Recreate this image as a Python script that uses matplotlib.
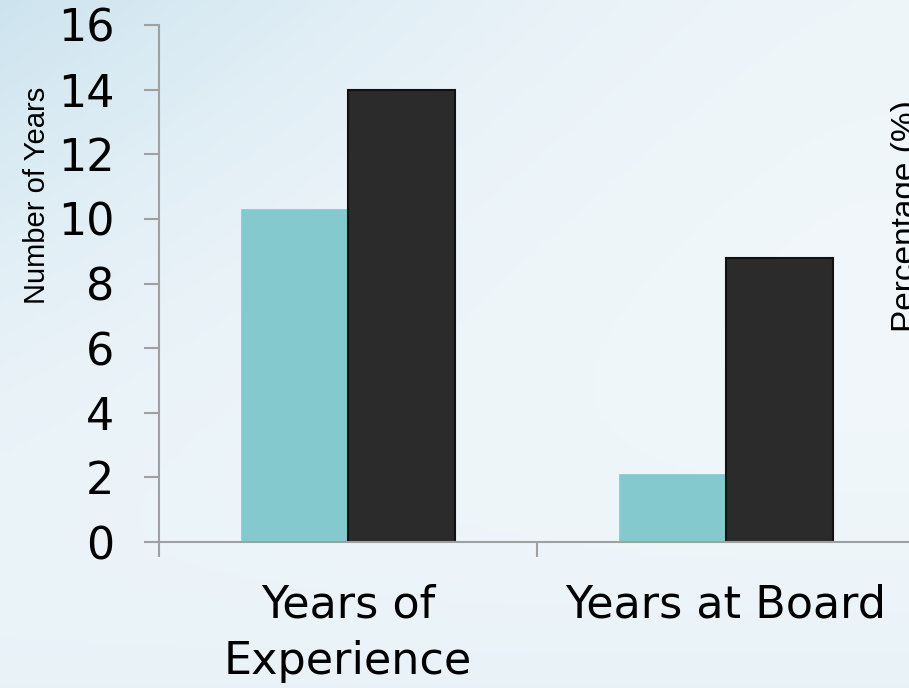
import numpy as np
import matplotlib
matplotlib.use('Agg')
import matplotlib.pyplot as plt
from matplotlib.colors import LinearSegmentedColormap

categories = ['Years of\nExperience', 'Years at Board']
series_a = [10.3, 2.1]    # teal bars
series_b = [14.0, 8.8]    # dark bars
y_ticks = [0, 2, 4, 6, 8, 10, 12, 14, 16]

plt.rcParams['font.family'] = ['DejaVu Sans']

fig = plt.figure(figsize=(9.09, 6.88), dpi=100)

# pale blue gradient background (row 0 = top of picture)
bg = fig.add_axes([0, 0, 1, 1], zorder=0)
bg.axis('off')
cmap = LinearSegmentedColormap.from_list('bg', ['#f8fbfd', '#e6f1f7', '#cde4ef'])
yy, xx = np.mgrid[0:1:200j, 0:1:200j]
d = 1.0 * (1 - xx) ** 1.4 * (1 - yy) ** 1.2 + 0.3 * (1 - yy) * xx + 0.45 * yy ** 3
bg.imshow(np.clip(d, 0, 1), cmap=cmap, vmin=0, vmax=1, aspect='auto',
          extent=[0, 1, 0, 1], origin='upper')
bg.set_xlim(0, 1)
bg.set_ylim(0, 1)

ax = fig.add_axes([159 / 909, 1 - 542 / 688, 756 / 909, 517 / 688], zorder=1)
ax.patch.set_alpha(0)

x = np.arange(len(categories))
w = 0.283
ax.bar(x - w / 2, series_a, w, color='#84c9cd', edgecolor='#84c9cd', linewidth=0.5, zorder=2)
ax.bar(x + w / 2, series_b, w, color='#2b2b2b', edgecolor='#111111', linewidth=1.5, zorder=2)

ax.set_xlim(-0.5, 1.5)
ax.set_ylim(0, 16)
ax.set_yticks(y_ticks)

ax.set_xticks([-0.5, 0.5, 1.5])
ax.set_xticklabels([])
ax.set_xticks(x, minor=True)
ax.set_xticklabels(categories, minor=True, fontsize=32, linespacing=1.4)
ax.tick_params(axis='x', which='minor', length=0, pad=30)
ax.tick_params(axis='x', which='major', length=11, width=1.5, color='#a0a0a0', direction='out')
ax.tick_params(axis='y', length=11, width=1.5, color='#a0a0a0', labelsize=32, pad=21)

for s in ['top', 'right']:
    ax.spines[s].set_visible(False)
for s in ['left', 'bottom']:
    ax.spines[s].set_color('#a0a0a0')
    ax.spines[s].set_linewidth(1.5)

fig.text(37 / 909, 1 - 195 / 688, 'Number of Years', rotation=90, ha='center', va='center',
         fontsize=21, family='Liberation Sans')
fig.text(907 / 909, 1 - 216 / 688, 'Percentage (%)', rotation=90, ha='center', va='center',
         fontsize=24, family='Liberation Sans')

fig.savefig('out.png', dpi=100)
